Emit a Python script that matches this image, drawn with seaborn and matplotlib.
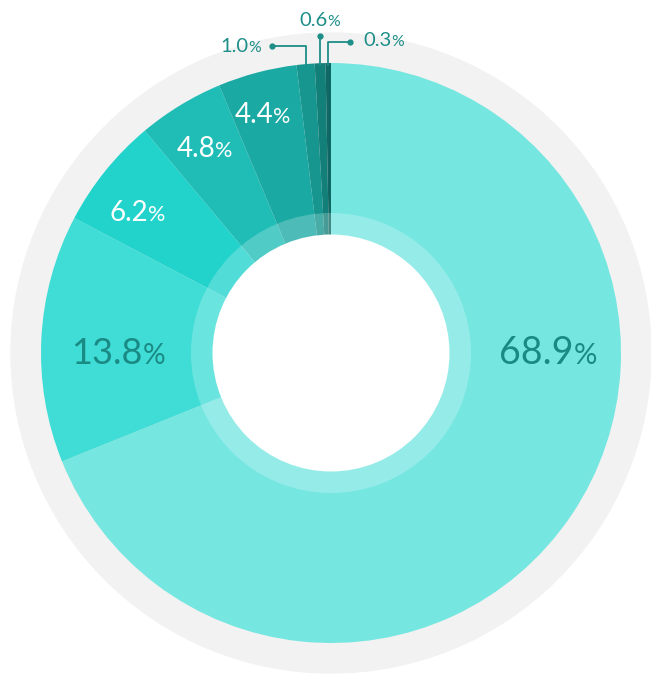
import numpy as np
import matplotlib
matplotlib.use("Agg")
import matplotlib.pyplot as plt
import seaborn as sns
from matplotlib.patches import Wedge, Circle
from matplotlib.offsetbox import TextArea, HPacker, AnnotationBbox

sns.set_theme(style="white")
plt.rcParams['font.family'] = ['Lato', 'DejaVu Sans']

# shares, clockwise from 12 o'clock
shares = [68.9, 13.8, 6.2, 4.8, 4.4, 1.0, 0.6, 0.3]
labels = ["68.9", "13.8", "6.2", "4.8", "4.4", "1.0", "0.6", "0.3"]
colors = ["#76E6E1", "#40DDD6", "#22D3CC", "#1FBDB6", "#1BA9A3", "#17968F", "#137F79", "#0F6863"]

W, H = 651, 675
cx, cy = 331, H - 353
R = 290

fig = plt.figure(figsize=(W / 100, H / 100), dpi=100)
ax = fig.add_axes([0, 0, 1, 1])

# light grey outer ring
ax.add_patch(Circle((cx, cy), 320, color="#F2F2F2", zorder=0))

wedges, _ = ax.pie(shares, colors=colors, startangle=90, counterclock=False,
                   radius=R, center=(cx, cy), frame=True,
                   wedgeprops=dict(linewidth=0))
ax.set_xlim(0, W)
ax.set_ylim(0, H)
ax.set_aspect('equal')
ax.axis('off')

# translucent inner ring + hole
ax.add_patch(Wedge((cx, cy), 140, 0, 360, width=22, color="white", alpha=0.22, lw=0, zorder=3))
ax.add_patch(Circle((cx, cy), 118.5, color="white", lw=0, zorder=4))

dark = "#1A8A84"


def pct_label(x, y, num, size, color):
    t1 = TextArea(num, textprops=dict(size=size, color=color))
    t2 = TextArea("%", textprops=dict(size=size * 0.78, color=color))
    box = HPacker(children=[t1, t2], align="baseline", pad=0, sep=0)
    ab = AnnotationBbox(box, (x, y), frameon=False, box_alignment=(0.5, 0.5), zorder=6)
    ax.add_artist(ab)


mids = [np.deg2rad((w.theta1 + w.theta2) / 2) for w in wedges]

# big labels
pct_label(cx + 217, cy, labels[0], 27, dark)
pct_label(cx - 213, cy, labels[1], 26, dark)
for i, r, da in ((2, 239, 3), (3, 240, 0.5), (4, 248, 1.2)):
    a = mids[i] + np.deg2rad(da)
    pct_label(cx + r * np.cos(a), cy + r * np.sin(a), labels[i], 20, "white")

# leader lines for the tiny slices
lc = "#1E8E88"
top = cy + R
x10 = cx + R * np.cos(mids[5])
x06 = cx + R * np.cos(mids[6])
x03 = cx + R * np.cos(mids[7])
ax.plot([272, x10, x10], [H - 46, H - 46, top - 2], color=lc, lw=1.3, zorder=5)
ax.plot([272], [H - 46], 'o', color=lc, ms=3.5, zorder=5)
ax.plot([x06, x06], [H - 36, top - 2], color=lc, lw=1.3, zorder=5)
ax.plot([x06], [H - 36], 'o', color=lc, ms=3.5, zorder=5)
ax.plot([350, x03, x03], [H - 42, H - 42, top - 2], color=lc, lw=1.3, zorder=5)
ax.plot([350], [H - 42], 'o', color=lc, ms=3.5, zorder=5)
pct_label(241, H - 46, labels[5], 14.5, lc)
pct_label(320, H - 20, labels[6], 14.5, lc)
pct_label(384, H - 40, labels[7], 14.5, lc)

fig.savefig("out.png", dpi=100, facecolor="white")
